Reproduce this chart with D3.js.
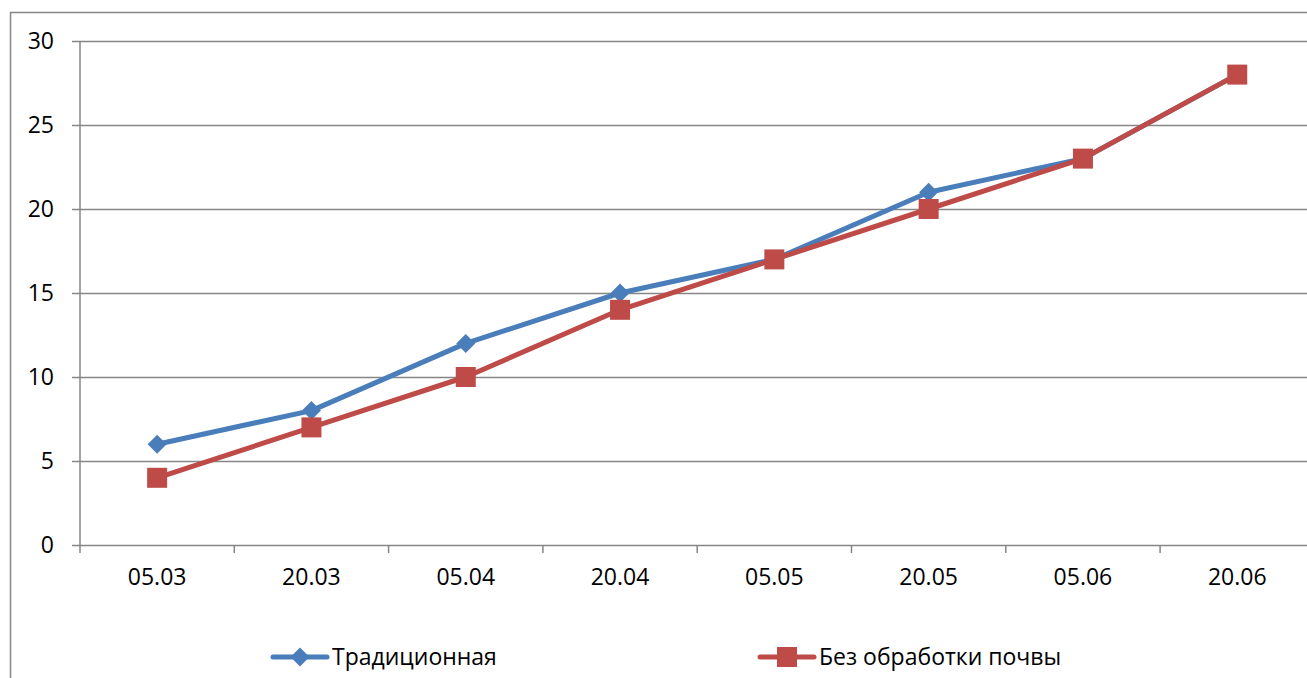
<!DOCTYPE html>
<html>
<head>
<meta charset="utf-8">
<script src="https://cdn.jsdelivr.net/npm/d3@7"></script>
<style>
  html, body { margin: 0; padding: 0; background: #fff; overflow: hidden; }
  svg { display: block; }
  text { font-family: "Open Sans", "Liberation Sans", sans-serif; fill: #000; }
</style>
</head>
<body>
<svg id="chart" width="1307" height="678"></svg>
<script>
// Dates of observation
const categories = ["05.03", "20.03", "05.04", "20.04", "05.05", "20.05", "05.06", "20.06"];
// Series values
const traditional = [6, 8, 12, 15, 17, 21, 23, 28];
const noTillage = [4, 7, 10, 14, 17, 20, 23, 28];
const seriesNames = ["Традиционная", "Без обработки почвы"];
const yTicks = [0, 5, 10, 15, 20, 25, 30];

const svg = d3.select("#chart");
const W = 1307, H = 678;
const plot = { left: 80, top: 41, bottom: 545, right: 1314.4 };
const gridColor = "#868686";
const fontSize = "23px";

// Outer chart frame
svg.append("rect")
  .attr("x", 10.5).attr("y", 12.5)
  .attr("width", 1400).attr("height", 800)
  .attr("fill", "#fff").attr("stroke", gridColor).attr("stroke-width", 1.5);

const x = d3.scaleBand().domain(categories).range([plot.left, plot.right]);
const y = d3.scaleLinear().domain([0, 30]).range([plot.bottom, plot.top]);

// Horizontal gridlines with y axis
const yAxis = d3.axisLeft(y).tickValues(yTicks).tickSize(8).tickPadding(18);
const gy = svg.append("g").attr("transform", `translate(${plot.left},0)`).call(yAxis);
gy.select(".domain").attr("stroke", gridColor).attr("stroke-width", 1.5)
  .attr("d", `M0,${plot.top}V${plot.bottom}`);
gy.selectAll(".tick line").attr("stroke", gridColor).attr("stroke-width", 1.5)
  .attr("x1", -8).attr("x2", W);
gy.selectAll(".tick text").style("font-size", fontSize).attr("fill", "#000");

// Category axis
const xAxis = d3.axisBottom(x).tickSize(0).tickPadding(24);
const gx = svg.append("g").attr("transform", `translate(0,${plot.bottom})`).call(xAxis);
gx.select(".domain").remove();
gx.selectAll(".tick text").style("font-size", fontSize).attr("fill", "#000");
// Tick marks between categories
const bounds = categories.map(c => x(c)).concat([x(categories[categories.length - 1]) + x.step()]);
gx.selectAll(".bound").data(bounds).enter().append("line")
  .attr("x1", d => d).attr("x2", d => d).attr("y1", 0).attr("y2", 8)
  .attr("stroke", gridColor).attr("stroke-width", 1.5);

const cx = c => x(c) + x.bandwidth() / 2;

const series = [
  { name: seriesNames[0], values: traditional, color: "#4a7ebb", marker: "diamond" },
  { name: seriesNames[1], values: noTillage, color: "#be4b48", marker: "square" }
];

const line = d3.line().x((d, i) => cx(categories[i])).y(d => y(d));

function drawMarker(g, type, color, px, py) {
  if (type === "diamond") {
    const s = 9.5;
    g.append("path")
      .attr("d", `M${px},${py - s}L${px + s},${py}L${px},${py + s}L${px - s},${py}Z`)
      .attr("fill", color);
  } else {
    const s = 10;
    g.append("rect").attr("x", px - s).attr("y", py - s)
      .attr("width", 2 * s).attr("height", 2 * s).attr("fill", color);
  }
}

series.forEach(s => {
  const g = svg.append("g");
  g.append("path").datum(s.values)
    .attr("d", line).attr("fill", "none")
    .attr("stroke", s.color).attr("stroke-width", 5)
    .attr("stroke-linejoin", "round").attr("stroke-linecap", "round");
  s.values.forEach((v, i) => drawMarker(g, s.marker, s.color, cx(categories[i]), y(v)));
});

// Legend
const legendPos = [{ x: 273, y: 657 }, { x: 760, y: 657 }];
series.forEach((s, i) => {
  const g = svg.append("g");
  const p = legendPos[i];
  g.append("line").attr("x1", p.x).attr("x2", p.x + 54)
    .attr("y1", p.y).attr("y2", p.y)
    .attr("stroke", s.color).attr("stroke-width", 5).attr("stroke-linecap", "round");
  drawMarker(g, s.marker, s.color, p.x + 27, p.y);
  g.append("text").attr("x", p.x + 59).attr("y", p.y)
    .attr("dy", "0.35em").style("font-size", fontSize).text(s.name);
});
</script>
</body>
</html>
